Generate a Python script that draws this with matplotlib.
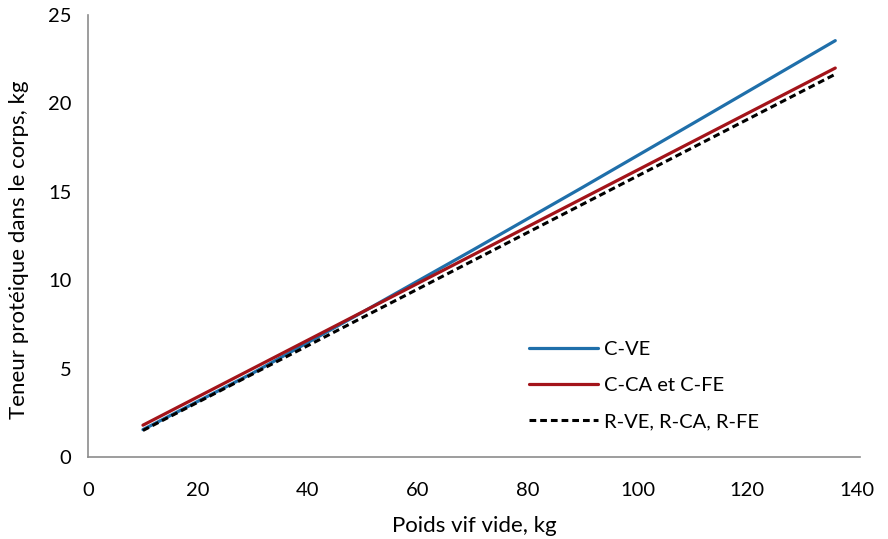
import matplotlib.pyplot as plt
import numpy as np

plt.rcParams['font.family'] = ['Lato', 'DejaVu Sans']

# poids vif vide (kg) et teneur protéique (kg)
x_cve = [10, 30, 50, 70, 90, 110, 136]
y_cve = [1.55, 4.75, 8.2, 11.7, 15.25, 18.85, 23.55]

x_cca = [10, 136]
y_cca = [1.8, 22.0]

x_r = [10, 136]
y_r = [1.5, 21.65]

x_ticks = [0, 20, 40, 60, 80, 100, 120, 140]
y_ticks = [0, 5, 10, 15, 20, 25]

fig = plt.figure(figsize=(8.88, 5.39), dpi=100)
ax = fig.add_axes([88/888, 82/539, 772/888, 442/539])

ax.plot(x_cve, y_cve, color='#1F6FAA', lw=2.3, label='C-VE', solid_capstyle='round')
ax.plot(x_cca, y_cca, color='#A3141A', lw=2.3, label='C-CA et C-FE', solid_capstyle='round')
ax.plot(x_r, y_r, color='black', lw=2.2, ls=(0, (2.2, 1.3)), label='R-VE, R-CA, R-FE')

ax.set_xlim(0, 140.5)
ax.set_ylim(0, 25)
ax.set_xticks(x_ticks)
ax.set_yticks(y_ticks)
ax.tick_params(length=0, labelsize=14.5, pad=18)
ax.tick_params(axis='y', pad=12)

for s in ['top', 'right']:
    ax.spines[s].set_visible(False)
for s in ['left', 'bottom']:
    ax.spines[s].set_color('#8C8C8C')
    ax.spines[s].set_linewidth(1.2)

ax.set_xlabel('Poids vif vide, kg', fontsize=16, labelpad=12)
ax.set_ylabel('Teneur protéique dans le corps, kg', fontsize=16)
ax.yaxis.set_label_coords(-0.077, 0.468)

ax.legend(loc='lower left', bbox_to_anchor=(0.548, 0.02), frameon=False,
          fontsize=14.5, handlelength=3.4, handletextpad=0.3, labelspacing=0.95)

fig.savefig('out.png', dpi=100)
